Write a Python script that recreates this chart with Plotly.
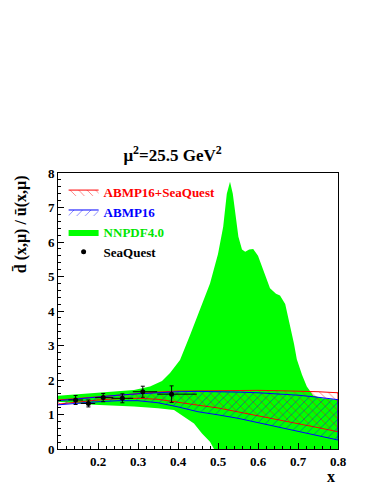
import plotly.graph_objects as go

# ABMP bands
x_band = [0.10, 0.15, 0.20, 0.25, 0.30, 0.35, 0.40, 0.45, 0.50, 0.55, 0.60, 0.65, 0.70, 0.75, 0.80]
sq_upper = [1.42, 1.47, 1.52, 1.57, 1.61, 1.65, 1.68, 1.69, 1.70, 1.70, 1.70, 1.69, 1.68, 1.66, 1.63]
sq_lower = [1.30, 1.36, 1.42, 1.46, 1.47, 1.44, 1.36, 1.27, 1.19, 1.07, 0.95, 0.84, 0.73, 0.62, 0.50]
ab_upper = [1.40, 1.46, 1.51, 1.56, 1.60, 1.64, 1.66, 1.67, 1.67, 1.65, 1.63, 1.60, 1.56, 1.50, 1.43]
ab_lower = [1.28, 1.33, 1.37, 1.40, 1.40, 1.34, 1.22, 1.08, 0.99, 0.89, 0.78, 0.65, 0.52, 0.39, 0.26]

# NNPDF4.0 band
x_nn_up = [0.10, 0.15, 0.20, 0.25, 0.29, 0.33, 0.36, 0.38, 0.405, 0.43, 0.45, 0.48, 0.50, 0.513,
           0.522, 0.53, 0.537, 0.543, 0.551, 0.56, 0.568, 0.578, 0.588, 0.60, 0.613, 0.63, 0.645,
           0.655, 0.668, 0.68, 0.69, 0.697, 0.71, 0.722, 0.738, 0.76, 0.78, 0.80]
nn_upper = [1.54, 1.58, 1.62, 1.66, 1.71, 1.81, 1.97, 2.20, 2.58, 3.30, 3.90, 4.80, 5.65, 6.44,
            7.40, 7.75, 7.40, 6.90, 6.15, 5.78, 5.72, 5.78, 5.80, 5.60, 5.19, 4.66, 4.50,
            4.45, 4.20, 3.60, 3.05, 2.60, 2.15, 1.81, 1.55, 1.47, 1.44, 1.42]
x_nn_lo = [0.10, 0.19, 0.29, 0.35, 0.39, 0.41, 0.44, 0.46, 0.48, 0.49, 0.50, 0.55, 0.80]
nn_lower = [1.37, 1.28, 1.23, 1.18, 1.13, 0.99, 0.74, 0.45, 0.21, 0.00, -0.30, -1.00, -1.00]

# SeaQuest data
sq_x = [0.144, 0.176, 0.213, 0.261, 0.312, 0.384]
sq_y = [1.42, 1.32, 1.49, 1.47, 1.66, 1.59]
sq_ey = [0.13, 0.10, 0.12, 0.13, 0.16, 0.24]
sq_xlo = [0.126, 0.157, 0.193, 0.234, 0.287, 0.348]
sq_xhi = [0.163, 0.193, 0.238, 0.288, 0.348, 0.447]

x_ticks = [0.2, 0.3, 0.4, 0.5, 0.6, 0.7, 0.8]
y_ticks = [0, 1, 2, 3, 4, 5, 6, 7, 8]

FONT = "Liberation Serif"

fig = go.Figure()

fig.add_trace(go.Scatter(
    x=x_nn_up + x_nn_lo[::-1], y=nn_upper + nn_lower[::-1],
    fill="toself", fillcolor="rgb(0,255,0)", mode="lines",
    line=dict(width=0, color="rgb(0,255,0)"),
    name="<span style='color:rgb(0,230,0)'>NNPDF4.0</span>", legendrank=3))

fig.add_trace(go.Scatter(
    x=x_band + x_band[::-1], y=sq_upper + sq_lower[::-1],
    fill="toself", fillcolor="rgba(0,0,0,0)", mode="lines",
    line=dict(width=1, color="red"),
    fillpattern=dict(shape="\\", fgcolor="red", bgcolor="rgba(0,0,0,0)", size=6, solidity=0.15),
    name="<span style='color:red'>ABMP16+SeaQuest</span>", legendrank=1))

fig.add_trace(go.Scatter(
    x=x_band + x_band[::-1], y=ab_upper + ab_lower[::-1],
    fill="toself", fillcolor="rgba(0,0,0,0)", mode="lines",
    line=dict(width=1, color="blue"),
    fillpattern=dict(shape="/", fgcolor="blue", bgcolor="rgba(0,0,0,0)", size=6, solidity=0.15),
    name="<span style='color:blue'>ABMP16</span>", legendrank=2))

fig.add_trace(go.Scatter(
    x=sq_x, y=sq_y, mode="markers",
    marker=dict(color="black", size=5),
    error_y=dict(type="data", array=sq_ey, color="black", thickness=1, width=2),
    error_x=dict(type="data", array=[h - x for h, x in zip(sq_xhi, sq_x)],
                 arrayminus=[x - l for l, x in zip(sq_xlo, sq_x)],
                 color="black", thickness=1, width=0),
    name="SeaQuest", legendrank=4))

fig.update_layout(
    width=374, height=484,
    margin=dict(l=50, r=44, t=165, b=43),
    paper_bgcolor="white", plot_bgcolor="white",
    font=dict(family=FONT, size=13, color="black", weight="bold"),
    title=dict(text="μ<sup>2</sup>=25.5 GeV<sup>2</sup>", x=0.44, xanchor="center",
               y=0.696, yanchor="middle",
               font=dict(family=FONT, size=17, color="black", weight="bold")),
    legend=dict(x=0.02, y=0.985, xanchor="left", yanchor="top",
                bgcolor="rgba(0,0,0,0)", borderwidth=0,
                font=dict(family=FONT, size=13, weight="bold"),
                tracegroupgap=0, itemwidth=30),
    showlegend=True,
)

fig.update_xaxes(range=[0.1, 0.8], tickvals=x_ticks, ticktext=[f"{v:.1f}" for v in x_ticks],
                 ticks="inside", ticklen=6, tickcolor="black",
                 minor=dict(ticks="inside", ticklen=3, dtick=0.02, tickcolor="black"),
                 showline=True, linecolor="black", linewidth=1, mirror=True,
                 showgrid=False, zeroline=False,
                 tickfont=dict(family=FONT, size=13, weight="bold"))
fig.update_yaxes(range=[0, 8], tickvals=y_ticks,
                 ticks="inside", ticklen=6, tickcolor="black",
                 minor=dict(ticks="inside", ticklen=3, dtick=0.2, tickcolor="black"),
                 showline=True, linecolor="black", linewidth=1, mirror=True,
                 showgrid=False, zeroline=False,
                 tickfont=dict(family=FONT, size=13, weight="bold"))

fig.add_annotation(text="x", xref="paper", yref="paper", x=0.975, y=-0.1,
                   xanchor="center", yanchor="middle", showarrow=False,
                   font=dict(family=FONT, size=16, weight="bold"))
fig.add_annotation(text="d\u0304 (x,μ) / u\u0304(x,μ)", xref="paper", yref="paper",
                   x=-0.135, y=1.0, xanchor="center", yanchor="top", textangle=-90,
                   showarrow=False, font=dict(family=FONT, size=16, weight="bold"))

fig.write_html("out.html")
